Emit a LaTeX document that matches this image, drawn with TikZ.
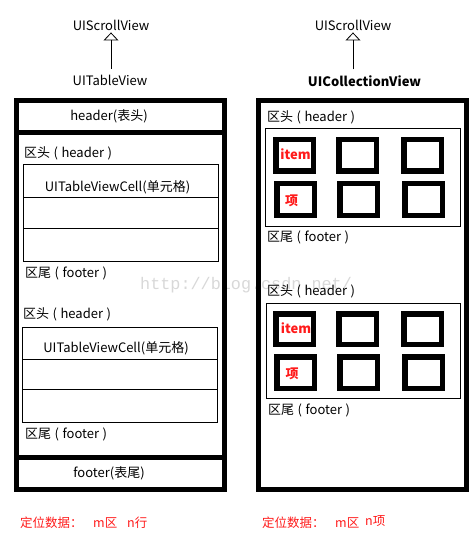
\documentclass[tikz,border=0pt]{standalone}
\usepackage{fontspec}
\setmainfont{Noto Sans CJK SC}
\newfontfamily\monof{Liberation Mono}
\usetikzlibrary{arrows.meta}
\definecolor{redtxt}{HTML}{FF1A1A}
\definecolor{wmark}{HTML}{D8D8D8}
\newcommand{\secl}[1]{#1\hspace{3.5pt}(\hspace{3.5pt}}
\newcommand{\secr}{\hspace{3.5pt})}
\begin{document}
\begin{tikzpicture}[x=1pt,y=-1pt,
  txt/.style={font=\fontsize{13}{15}\selectfont, inner sep=0pt, anchor=west},
  ctxt/.style={font=\fontsize{13}{15}\selectfont, inner sep=0pt},
  btxt/.style={font=\fontsize{13}{15}\selectfont\bfseries, inner sep=0pt},
  heavy/.style={line width=5pt},
  thinline/.style={line width=1pt},
  itembox/.style={line width=5.5pt},
  inh/.style={-{Triangle[open,length=8pt,width=15pt]}, line width=0.8pt},
  redlbl/.style={font=\fontsize{12.5}{14}\selectfont, text=redtxt, inner sep=0pt, anchor=west},
  itemlbl/.style={font=\fontsize{13}{15}\selectfont\bfseries, text=redtxt, inner sep=0pt},
]
\useasboundingbox (0,0) rectangle (474,545);
% watermark
\node[font=\monof\fontsize{16.8}{18}\selectfont, text=wmark, inner sep=0pt, anchor=base west] (wm) at (140,289) {http://blog.csdn.net/};

% ---------------- left panel ----------------
\node[ctxt] (sv1) at (111,25) {UIScrollView};
\node[ctxt] (tv) at (110,80) {UITableView};
\draw[inh, shorten <=6pt, shorten >=2pt] (sv1.south |- tv.north) -- (sv1.south);

\draw[heavy] (16.5,100.5) rectangle (224.5,489.5);
\draw[heavy] (16.5,132.5) -- (224.5,132.5);
\draw[heavy] (16.5,457.5) -- (224.5,457.5);
\node[ctxt] (thdr) at (109,116) {header(表头)};
\node[ctxt] (tftr) at (109,473) {footer(表尾)};

% section 1
\node[txt] (s1h) at (24,153) {\secl{区头}header\secr};
\draw[thinline] (23,165) rectangle (218,261);
\draw[thinline] (23,198) -- (218,198);
\draw[thinline] (23,228) -- (218,228);
\node[ctxt] (c1) at (117.5,187) {UITableViewCell(单元格)};
\node[txt] (s1f) at (25,273) {\secl{区尾}footer\secr};

% section 2
\node[txt] (s2h) at (23,314) {\secl{区头}header\secr};
\draw[thinline] (22,327) rectangle (217,422);
\draw[thinline] (22,359) -- (217,359);
\draw[thinline] (22,389) -- (217,389);
\node[ctxt] (c2) at (116,348) {UITableViewCell(单元格)};
\node[txt] (s2f) at (25,434) {\secl{区尾}footer\secr};

\node[redlbl] (l1) at (20,523) {定位数据：};
\node[redlbl] (l2) at (93,523) {m区};
\node[redlbl] (l3) at (127,523) {n行};

% ---------------- right panel ----------------
\node[ctxt] (sv2) at (353,25) {UIScrollView};
\node[btxt] (cv) at (364.5,81) {UICollectionView};
\draw[inh, shorten <=6pt, shorten >=2pt] (sv2.south |- cv.north) -- (sv2.south);

\draw[heavy] (258.5,100.5) rectangle (466.5,489.5);

% section 1
\node[txt] (r1h) at (267,117) {\secl{区头}header\secr};
\draw[thinline] (265,129) rectangle (460,226);
\foreach \xa/\xb [count=\i] in {273/316,336/379,401/444} {
  \draw[itembox] (\xa+2.75,139.75) rectangle (\xb-2.75,171.25);
  \draw[itembox] (\xa+3.75,183.75) rectangle (\xb-1.75,215.25);
}
\node[itemlbl] (it1) at (295.5,154) {item};
\node[itemlbl] (xa1) at (291.5,200.5) {项};
\node[txt] (r1f) at (267,237) {\secl{区尾}footer\secr};

% section 2
\node[txt] (r2h) at (267,291) {\secl{区头}header\secr};
\draw[thinline] (266,303) rectangle (460,398);
\foreach \xa/\xb [count=\i] in {273/316,336/379,401/444} {
  \draw[itembox] (\xa+2.75,313.75) rectangle (\xb-2.75,344.25);
  \draw[itembox] (\xa+3.75,356.75) rectangle (\xb-1.75,388.25);
}
\node[itemlbl] (it2) at (296,328) {item};
\node[itemlbl] (xa2) at (292,373.5) {项};
\node[txt] (r2f) at (268,410) {\secl{区尾}footer\secr};

\node[redlbl] (q1) at (262,523) {定位数据：};
\node[redlbl] (q2) at (335,523) {m区};
\node[redlbl] (q3) at (365,521) {n项};
\end{tikzpicture}
\end{document}
